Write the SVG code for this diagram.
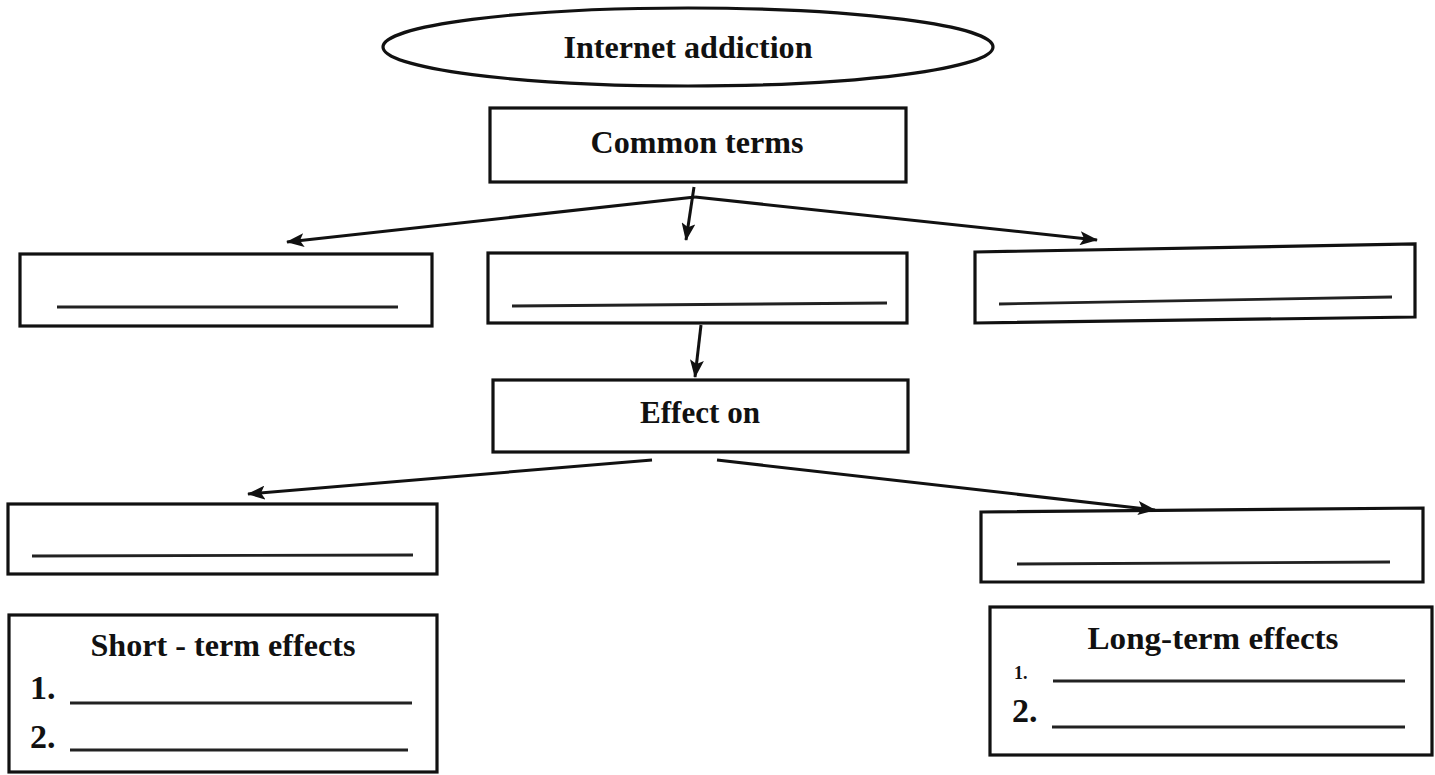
<svg xmlns="http://www.w3.org/2000/svg" width="1435" height="775" viewBox="0 0 1435 775">
<style>
.box{fill:#fff;stroke:#111;stroke-width:3.2}
.blank{stroke:#222;stroke-width:2.8;fill:none}
.lbl{font-family:"Liberation Serif","Times New Roman",serif;font-weight:bold;fill:#111;text-anchor:middle}
.num{font-family:"Liberation Serif","Times New Roman",serif;font-weight:bold;fill:#111}
.conn{stroke:#111;stroke-width:3;fill:none}
</style>
<defs>
<marker id="ah" viewBox="0 0 18 14" refX="17" refY="7" markerWidth="18" markerHeight="14" markerUnits="userSpaceOnUse" orient="auto">
<path d="M0,0 L18,7 L0,14 L4,7 Z" fill="#111"/>
</marker>
</defs>
<rect width="1435" height="775" fill="#fff"/>

<g id="internet-addiction">
<ellipse cx="688" cy="47" rx="305" ry="39" class="box"/>
<text x="688" y="58" class="lbl" font-size="32" textLength="249" lengthAdjust="spacingAndGlyphs">Internet addiction</text>
</g>

<g id="common-terms">
<rect x="490" y="108" width="416" height="74" class="box"/>
<text x="697" y="153" class="lbl" font-size="32" textLength="213" lengthAdjust="spacingAndGlyphs">Common terms</text>
</g>

<g id="term-1">
<rect x="20" y="254" width="412" height="72" class="box"/>
<line x1="57" y1="307" x2="398" y2="307" class="blank"/>
</g>

<g id="term-2">
<rect x="488" y="253" width="419" height="70" class="box"/>
<line x1="512" y1="306" x2="887" y2="303" class="blank"/>
</g>

<g id="term-3">
<polygon points="975,252 1415,244 1415,317 975,323" class="box"/>
<line x1="999" y1="304" x2="1392" y2="297" class="blank"/>
</g>

<g id="effect-on">
<rect x="493" y="380" width="415" height="72" class="box"/>
<text x="700" y="423" class="lbl" font-size="32" textLength="120" lengthAdjust="spacingAndGlyphs">Effect on</text>
</g>

<g id="effect-1">
<rect x="8" y="504" width="429" height="70" class="box"/>
<line x1="32" y1="556" x2="413" y2="555" class="blank"/>
</g>

<g id="effect-2">
<polygon points="981,512 1423,508 1423,582 981,582" class="box"/>
<line x1="1017" y1="564" x2="1390" y2="562" class="blank"/>
</g>

<g id="short-term">
<rect x="9" y="615" width="428" height="157" class="box"/>
<text x="223" y="656" class="lbl" font-size="32" textLength="265" lengthAdjust="spacingAndGlyphs">Short - term effects</text>
<text x="30" y="699" class="num" font-size="34">1.</text>
<line x1="70" y1="703" x2="412" y2="703" class="blank"/>
<text x="30" y="748" class="num" font-size="34">2.</text>
<line x1="70" y1="750" x2="408" y2="750" class="blank"/>
</g>

<g id="long-term">
<rect x="990" y="607" width="442" height="148" class="box"/>
<text x="1213" y="649" class="lbl" font-size="32" textLength="251" lengthAdjust="spacingAndGlyphs">Long-term effects</text>
<text x="1014" y="679" class="num" font-size="18">1.</text>
<line x1="1053" y1="681" x2="1405" y2="681" class="blank"/>
<text x="1012" y="722" class="num" font-size="34">2.</text>
<line x1="1052" y1="727" x2="1405" y2="727" class="blank"/>
</g>

<g id="connectors">
<line x1="695" y1="197" x2="287" y2="242" class="conn" marker-end="url(#ah)"/>
<line x1="695" y1="197" x2="1097" y2="240" class="conn" marker-end="url(#ah)"/>
<line x1="694" y1="187" x2="686" y2="240" class="conn" marker-end="url(#ah)"/>
<line x1="701" y1="325" x2="695" y2="377" class="conn" marker-end="url(#ah)"/>
<line x1="652" y1="460" x2="248" y2="494" class="conn" marker-end="url(#ah)"/>
<line x1="717" y1="460" x2="1155" y2="510" class="conn" marker-end="url(#ah)"/>
</g>
</svg>
